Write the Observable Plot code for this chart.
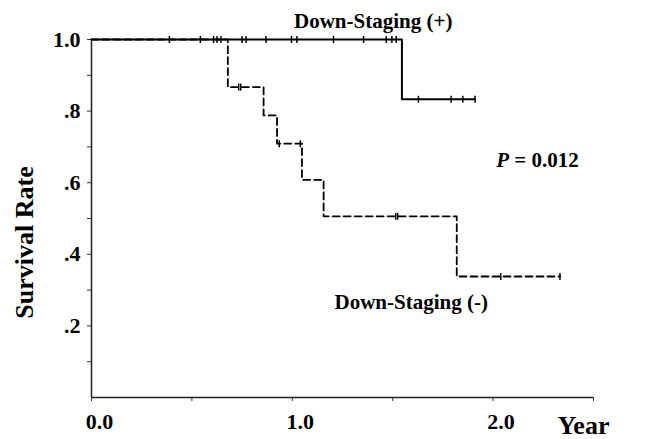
<!DOCTYPE html>
<html><head><meta charset="utf-8">
<script src="https://cdn.jsdelivr.net/npm/d3@7"></script>
<script src="https://cdn.jsdelivr.net/npm/@observablehq/plot@0.6"></script>
<style>body{margin:0;background:#fff} svg{display:block}</style>
</head><body><div id="chart"></div>
<script>
// Down-Staging (+) : Kaplan-Meier steps
const plusTimes = [0, 1.546, 1.910];
const plusSurv = [1.0, 0.833, 0.833];
const plusCensorTimes = [0.388, 0.542, 0.608, 0.625, 0.645, 0.750, 0.770, 0.869, 0.996, 1.023, 1.205, 1.355, 1.468, 1.496, 1.517, 1.628, 1.791, 1.849, 1.910];
// Down-Staging (-)
const minusTimes = [0, 0.679, 0.857, 0.924, 1.048, 1.156, 1.819, 2.333];
const minusSurv = [1.0, 0.867, 0.788, 0.709, 0.608, 0.506, 0.338, 0.338];
const minusCensorTimes = [0.733, 0.743, 0.935, 1.040, 1.515, 1.525, 2.038, 2.333];

const yTickValues = [0.2, 0.4, 0.6, 0.8, 1.0];
const yTickLabels = [".2", ".4", ".6", ".8", "1.0"];
const yMinorTicks = [0.1, 0.3, 0.5, 0.7, 0.9];
const xTickValues = [0, 0.5, 1, 1.5, 2, 2.5];
const xLabelValues = [0, 1, 2];
const xTickLabels = ["0.0", "1.0", "2.0"];

const annotations = [
  {text: "Down-Staging (+)", x: 1.403, y: 1.050},
  {text: "Down-Staging (-)", x: 1.592, y: 0.265},
  {text: "P = 0.012", x: 2.221, y: 0.662}
];

const stepAt = (times, surv, t) => { let s = surv[0]; for (let i = 0; i < times.length; i++) if (times[i] <= t) s = surv[i]; return s; };
const plusLine = plusTimes.map((t, i) => ({t, s: plusSurv[i]}));
const minusLine = minusTimes.map((t, i) => ({t, s: minusSurv[i]}));
const plusCens = plusCensorTimes.map(t => ({t, s: stepAt(plusTimes, plusSurv, t)}));
const minusCens = minusCensorTimes.map(t => ({t, s: stepAt(minusTimes, minusSurv, t)}));

const vtick = {draw(ctx, size) { const r = Math.sqrt(size / Math.PI); ctx.moveTo(0, -r); ctx.lineTo(0, r); }};

const chart = Plot.plot({
  width: 650, height: 439,
  marginLeft: 91, marginRight: 57, marginTop: 39, marginBottom: 42,
  style: {fontFamily: "'Liberation Serif', 'Times New Roman', serif", fontSize: "21px", fontWeight: "bold", color: "black", background: "white"},
  x: {domain: [0, 2.5]},
  y: {domain: [0, 1]},
  marks: [
    Plot.axisY({ticks: yMinorTicks, tickFormat: () => "", tickSize: 4, label: null, stroke: "#333"}),
    Plot.axisY({ticks: yTickValues, tickFormat: d => yTickLabels[yTickValues.indexOf(d)], tickSize: 4, tickPadding: 7, label: null, stroke: "#333", fontSize: 22}),
    Plot.axisX({ticks: xTickValues, tickFormat: () => "", tickSize: 4, label: null, stroke: "#333"}),
    Plot.axisX({ticks: xLabelValues, tickFormat: d => xTickLabels[xLabelValues.indexOf(d)], tickSize: 0, tickPadding: 16, dx: 8, label: null, fontSize: 22}),
    Plot.ruleX([0], {stroke: "#222", strokeWidth: 1.5}),
    Plot.ruleY([0], {stroke: "#222", strokeWidth: 1.5}),
    Plot.line(minusLine, {x: "t", y: "s", curve: "step-after", stroke: "black", strokeWidth: 1.8, strokeDasharray: "7,4"}),
    Plot.line(plusLine, {x: "t", y: "s", curve: "step-after", stroke: "black", strokeWidth: 2}),
    Plot.dot(plusCens, {x: "t", y: "s", symbol: vtick, r: 3.5, stroke: "black", strokeWidth: 1.5, fill: "none"}),
    Plot.dot(minusCens, {x: "t", y: "s", symbol: vtick, r: 3.5, stroke: "black", strokeWidth: 1.5, fill: "none"}),
    Plot.text(annotations, {x: "x", y: "y", text: "text", fontSize: 21, fill: "black", fontWeight: "bold", clip: false}),
    Plot.text(["Survival Rate"], {frameAnchor: "left", y: [0.433], rotate: -90, dx: -67, textAnchor: "middle", fontSize: 26, fill: "black"}),
    Plot.text(["Year"], {x: [2.45], y: [-0.078], fontSize: 26, fill: "black"})
  ]
});
document.getElementById("chart").appendChild(chart);
// italic P
chart.querySelectorAll("text").forEach(t => {
  if (t.textContent === "P = 0.012") {
    t.textContent = "";
    const ns = "http://www.w3.org/2000/svg";
    const a = document.createElementNS(ns, "tspan"); a.setAttribute("font-style", "italic"); a.textContent = "P";
    const b = document.createElementNS(ns, "tspan"); b.textContent = " = 0.012";
    t.appendChild(a); t.appendChild(b);
  }
});
</script></body></html>
